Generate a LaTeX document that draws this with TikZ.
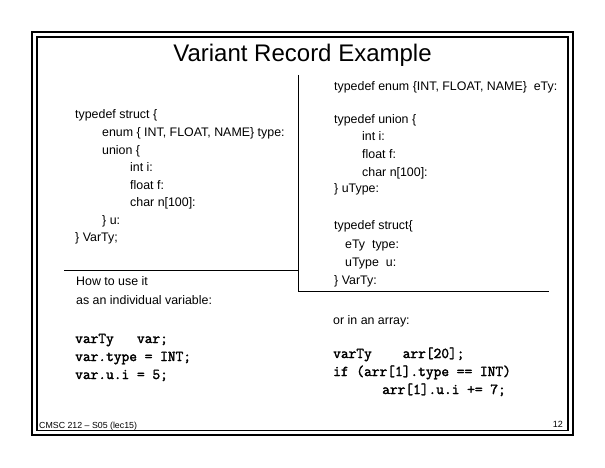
\documentclass[tikz,border=0pt]{standalone}
\usepackage{fontspec}
\setmainfont{Liberation Sans}
\newfontfamily\codefont{Latin Modern Mono}[FakeBold=2.2]
\usetikzlibrary{positioning,calc}

\tikzset{
  frame/.style={line width=1.4pt},
  rule/.style={line width=1pt},
  txt/.style={anchor=base west, inner sep=0pt, font=\fontsize{12.4}{15}\selectfont},
  code/.style={anchor=base west, inner sep=0pt, font=\codefont\fontsize{15}{18}\selectfont},
}

\begin{document}
\begin{tikzpicture}[x=1pt,y=-1pt]
  \useasboundingbox (0,0) rectangle (605,468);

  % Double frame round the slide
  \draw[frame] (32,32) rectangle (573,435);
  \draw[frame] (37,37) rectangle (568,430.5);

  % Title
  \node[anchor=base, inner sep=0pt, font=\fontsize{24}{28}\selectfont] (title) at (302.5,62) {Variant Record Example};

  % Divider lines
  \coordinate (vtop) at (298,75);
  \coordinate (vbot) at (298,291);
  \coordinate (rend) at (549,291);
  \coordinate (lbeg) at (64,270);
  \coordinate (lend) at (298,270);
  \draw[rule] (vtop) -- (vbot) -- (rend);
  \draw[rule] (lbeg) -- (lend);

  % Left: nested declaration
  \node[txt] (l1) at (75,119)    {typedef struct \{};
  \node[txt] (l2) at (102,136.5) {enum \{ INT, FLOAT, NAME\} type:};
  \node[txt] (l3) at (102,154)   {union \{};
  \node[txt] (l4) at (130,171.5) {int i:};
  \node[txt] (l5) at (130,189)   {float f:};
  \node[txt] (l6) at (130,206.5) {char n[100]:};
  \node[txt] (l7) at (102,224)   {\} u:};
  \node[txt] (l8) at (75,241.5)  {\} VarTy;};

  % Right: separate typedefs
  \node[txt] (r1) at (334,91)  {typedef enum \{INT, FLOAT, NAME\}\ \ eTy:};
  \node[txt] (r2) at (334,124) {typedef union \{};
  \node[txt] (r3) at (362,141) {int i:};
  \node[txt] (r4) at (362,158) {float f:};
  \node[txt] (r5) at (362,176) {char n[100]:};
  \node[txt] (r6) at (334,193) {\} uType:};
  \node[txt] (r7) at (334,229) {typedef struct\{};
  \node[txt] (r8) at (345,248) {eTy\ \ type:};
  \node[txt] (r9) at (345,266) {uType\ \ u:};
  \node[txt] (r10) at (334,284) {\} VarTy:};

  % Usage as a single variable
  \node[txt] (u1) at (76,285) {How to use it};
  \node[txt] (u2) at (76,304) {as an individual variable:};
  \node[code] (v1) at (75,343) {varTy\ \ \ var;};
  \node[code] (v2) at (75,361) {var.type = INT;};
  \node[code] (v3) at (75,379) {var.u.i = 5;};

  % Usage in an array
  \node[txt] (a0) at (333,324) {or in an array:};
  \node[code] (a1) at (333,358) {varTy\ \ \ \ arr[20];};
  \node[code] (a2) at (333,376) {if (arr[1].type == INT)};
  \node[code] (a3) at (382,394) {arr[1].u.i += 7;};

  % Footer
  \node[anchor=base west, inner sep=0pt, font=\fontsize{8.8}{10}\selectfont] (foot) at (39,428) {CMSC 212 -- S05 (lec15)};
  \node[anchor=base east, inner sep=0pt, font=\fontsize{9}{11}\selectfont] (page) at (563,427) {12};
\end{tikzpicture}
\end{document}
